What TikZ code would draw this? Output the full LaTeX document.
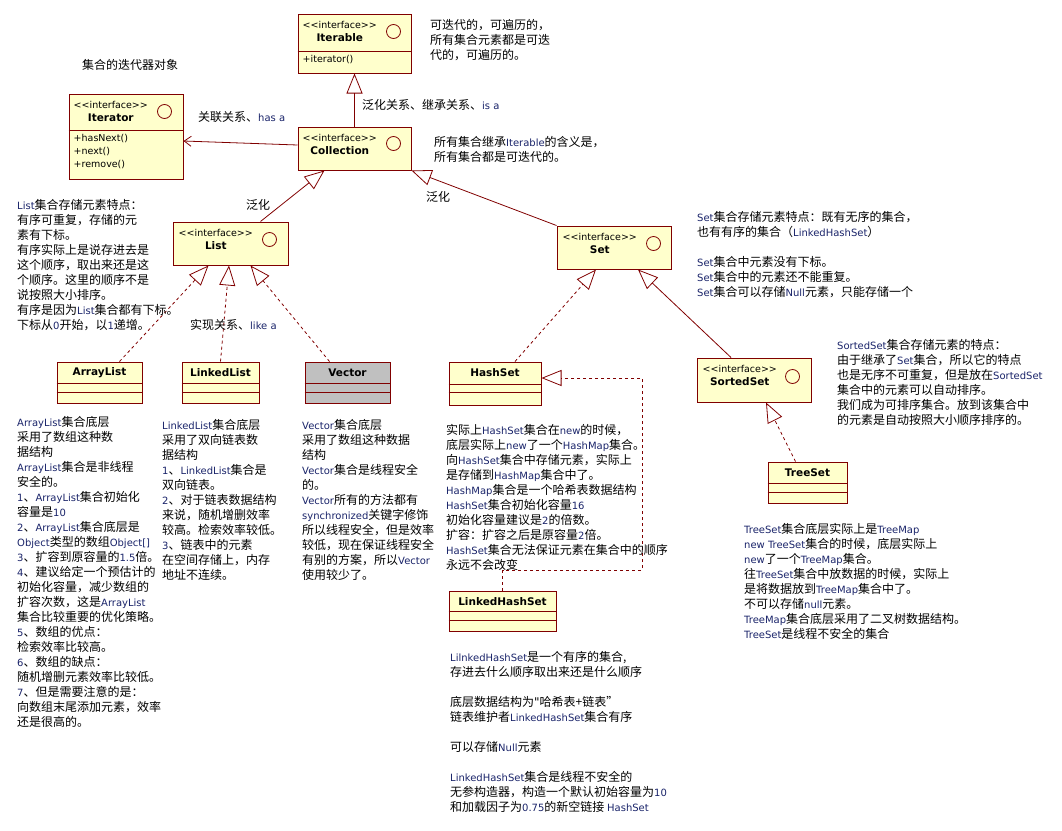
\documentclass[tikz,border=0pt]{standalone}
\usepackage{fontspec}
\setmainfont{Noto Sans CJK SC}
\newfontfamily\umlfont{DejaVu Sans}
\usetikzlibrary{arrows.meta,calc}
\definecolor{umlred}{RGB}{128,0,0}
\definecolor{umlfill}{RGB}{255,255,204}
\definecolor{umlgrey}{RGB}{192,192,192}
\definecolor{latin}{RGB}{25,35,105}
\newcommand\lat[1]{{\umlfont\fontsize{10}{15}\selectfont\color{latin}#1}}

\begin{document}
\begin{tikzpicture}[x=1pt,y=-1pt,
    box/.style={draw=umlred,fill=umlfill,line width=1pt,inner sep=0pt},
    sep/.style={draw=umlred,line width=1pt},
    dot/.style={circle,draw=umlred,line width=0.8pt,minimum size=14pt,inner sep=0pt},
    stereo/.style={font=\umlfont\fontsize{9.5}{11}\selectfont,inner sep=0pt,anchor=west},
    tname/.style={font=\umlfont\bfseries\fontsize{10.5}{12}\selectfont,inner sep=0pt},
    meth/.style={font=\umlfont\fontsize{9.5}{13}\selectfont,inner sep=0pt,anchor=north west,align=left},
    note/.style={font=\fontsize{12}{15}\selectfont,inner sep=0pt,anchor=north west,align=left},
    lbl/.style={font=\fontsize{12}{15}\selectfont,inner sep=0pt,anchor=west},
    gen/.style={draw=umlred,line width=0.8pt,-{Triangle[open,length=20pt,width=16pt]}},
    real/.style={gen,dash pattern=on 3pt off 3pt},
    assoc/.style={draw=umlred,line width=0.8pt,-{Straight Barb[length=7pt,width=10pt]}}]
    \useasboundingbox (0,0) rectangle (1062,830);

    % interfaces
    \node[box,minimum width=113pt,minimum height=59pt] (iterable) at (354.5,43.5) {};
    \draw[sep] ($(iterable.north west)+(0,38)$) -- ($(iterable.north east)+(0,38)$);
    \node[stereo] (iterable-st) at ($(iterable.north west)+(5,11)$) {<<interface>>};
    \node[tname] (iterable-n) at ($(iterable-st)+(0,13)$) {Iterable};
    \node[dot] (iterable-c) at ($(iterable.north east)+(-18,18)$) {};
    \node[meth] (iterable-m) at ($(iterable.north west)+(5,42)$) {+iterator()};

    \node[box,minimum width=114pt,minimum height=85pt] (iterator) at (126,136.5) {};
    \draw[sep] ($(iterator.north west)+(0,37)$) -- ($(iterator.north east)+(0,37)$);
    \node[stereo] (iterator-st) at ($(iterator.north west)+(5,11)$) {<<interface>>};
    \node[tname] (iterator-n) at ($(iterator-st)+(0,13)$) {Iterator};
    \node[dot] (iterator-c) at ($(iterator.north east)+(-19,18)$) {};
    \node[meth] (iterator-m) at ($(iterator.north west)+(5,41)$) {+hasNext()\\+next()\\+remove()};

    \node[box,minimum width=113pt,minimum height=43pt] (collection) at (354.5,148.5) {};
    \node[stereo] (collection-st) at ($(collection.north west)+(5,11)$) {<<interface>>};
    \node[tname] (collection-n) at ($(collection-st)+(0,13)$) {Collection};
    \node[dot] (collection-c) at ($(collection.north east)+(-18,17)$) {};

    \node[box,minimum width=115pt,minimum height=43pt] (list) at (230.5,243.5) {};
    \node[stereo] (list-st) at ($(list.north west)+(6,11)$) {<<interface>>};
    \node[tname] (list-n) at ($(list-st)+(0,13)$) {List};
    \node[dot] (list-c) at ($(list.north east)+(-19,18)$) {};

    \node[box,minimum width=114pt,minimum height=43pt] (set) at (614,247.5) {};
    \node[stereo] (set-st) at ($(set.north west)+(6,11)$) {<<interface>>};
    \node[tname] (set-n) at ($(set-st)+(0,13)$) {Set};
    \node[dot] (set-c) at ($(set.north east)+(-18,18)$) {};

    \node[box,minimum width=114pt,minimum height=44pt] (sortedset) at (754,380) {};
    \node[stereo] (sortedset-st) at ($(sortedset.north west)+(6,11)$) {<<interface>>};
    \node[tname] (sortedset-n) at ($(sortedset-st)+(0,13)$) {SortedSet};
    \node[dot] (sortedset-c) at ($(sortedset.north east)+(-19,19)$) {};

    % classes
    \node[box,minimum width=85pt,minimum height=41pt] (arraylist) at (99.5,382.5) {};
    \node[box,minimum width=77pt,minimum height=41pt] (linkedlist) at (220.5,382.5) {};
    \node[box,fill=umlgrey,minimum width=85pt,minimum height=41pt] (vector) at (347.5,382.5) {};
    \node[box,minimum width=92pt,minimum height=43pt] (hashset) at (495,383.5) {};
    \node[box,minimum width=107pt,minimum height=40pt] (linkedhashset) at (502.5,611) {};
    \node[box,minimum width=79pt,minimum height=41pt] (treeset) at (807.5,482.5) {};
    \foreach \c/\t/\a/\b in {arraylist/ArrayList/22/31, linkedlist/LinkedList/22/31,
        vector/Vector/22/31, hashset/HashSet/23/31,
        linkedhashset/LinkedHashSet/21/30, treeset/TreeSet/22/31} {
        \draw[sep] ($(\c.north west)+(0,\a)$) -- ($(\c.north east)+(0,\a)$);
        \draw[sep] ($(\c.north west)+(0,\b)$) -- ($(\c.north east)+(0,\b)$);
        \node[tname] (\c-n) at ($(\c.north)+(0,11)$) {\t};
    }

    % connectors
    \draw[gen] (collection) -- (iterable);
    \draw[assoc] ([yshift=3.5pt]collection.west) -- ([yshift=-4.5pt]iterator.east);
    \draw[gen] ([xshift=30pt]list.north) -- ([xshift=-30pt]collection.south);
    \draw[gen] (set.north west) -- (collection.south east);
    \draw[real] ([xshift=20pt]arraylist.north) -- ([xshift=-22pt]list.south);
    \draw[real] (linkedlist.north) -- ([xshift=-1.5pt]list.south);
    \draw[real] ([xshift=-18pt]vector.north) -- ([xshift=20pt]list.south);
    \draw[real] ([xshift=20pt]hashset.north) -- ([xshift=-18pt]set.south);
    \draw[gen] ([xshift=-23pt]sortedset.north) -- ([xshift=24pt]set.south);
    \draw[real] ([xshift=-12pt]treeset.north) -- ([xshift=12pt]sortedset.south);
    \coordinate (lhs-bend) at (642,570);
    \draw[real] (linkedhashset.north) |- (lhs-bend) |- ([yshift=5.5pt]hashset.east);

    % labels
    \node[lbl] (iterator-cap) at (82,65) {集合的迭代器对象};
    \node[lbl] (assoc-lbl) at (198,117) {关联关系、\lat{has a}};
    \node[lbl] (isa-lbl) at (362,105) {泛化关系、继承关系、\lat{is a}};
    \node[lbl] (list-gen) at (246,205) {泛化};
    \node[lbl] (set-gen) at (426,197) {泛化};
    \node[lbl] (likea-lbl) at (190,325) {实现关系、\lat{like a}};

    % notes
    \node[note] (iterable-note) at (430,19) {可迭代的，可遍历的，\\所有集合元素都是可迭\\代的，可遍历的。};
    \node[note] (collection-note) at (434,136) {所有集合继承\lat{Iterable}的含义是，\\所有集合都是可迭代的。};
    \node[note] (list-note) at (17,199) {\lat{List}集合存储元素特点：\\
        有序可重复，存储的元\\
        素有下标。\\
        有序实际上是说存进去是\\
        这个顺序，取出来还是这\\
        个顺序。这里的顺序不是\\
        说按照大小排序。\\
        有序是因为\lat{List}集合都有下标。\\
        下标从\lat{0}开始，以\lat{1}递增。};
    \node[note] (arraylist-note) at (17,416) {\lat{ArrayList}集合底层\\
        采用了数组这种数\\
        据结构\\
        \lat{ArrayList}集合是非线程\\
        安全的。\\
        \lat{1}、\lat{ArrayList}集合初始化\\
        容量是\lat{10}\\
        \lat{2}、\lat{ArrayList}集合底层是\\
        \lat{Object}类型的数组\lat{Object[]}\\
        \lat{3}、扩容到原容量的\lat{1.5}倍。\\
        \lat{4}、建议给定一个预估计的\\
        初始化容量，减少数组的\\
        扩容次数，这是\lat{ArrayList}\\
        集合比较重要的优化策略。\\
        \lat{5}、数组的优点：\\
        检索效率比较高。\\
        \lat{6}、数组的缺点：\\
        随机增删元素效率比较低。\\
        \lat{7}、但是需要注意的是：\\
        向数组末尾添加元素，效率\\
        还是很高的。};
    \node[note] (linkedlist-note) at (162,419) {\lat{LinkedList}集合底层\\
        采用了双向链表数\\
        据结构\\
        \lat{1}、\lat{LinkedList}集合是\\
        双向链表。\\
        \lat{2}、对于链表数据结构\\
        来说，随机增删效率\\
        较高。检索效率较低。\\
        \lat{3}、链表中的元素\\
        在空间存储上，内存\\
        地址不连续。};
    \node[note] (vector-note) at (302,419) {\lat{Vector}集合底层\\
        采用了数组这种数据\\
        结构\\
        \lat{Vector}集合是线程安全\\
        的。\\
        \lat{Vector}所有的方法都有\\
        \lat{synchronized}关键字修饰\\
        所以线程安全，但是效率\\
        较低，现在保证线程安全\\
        有别的方案，所以\lat{Vector}\\
        使用较少了。};
    \node[note] (hashset-note) at (446,424) {实际上\lat{HashSet}集合在\lat{new}的时候，\\
        底层实际上\lat{new}了一个\lat{HashMap}集合。\\
        向\lat{HashSet}集合中存储元素，实际上\\
        是存储到\lat{HashMap}集合中了。\\
        \lat{HashMap}集合是一个哈希表数据结构\\
        \lat{HashSet}集合初始化容量\lat{16}\\
        初始化容量建议是\lat{2}的倍数。\\
        扩容：扩容之后是原容量\lat{2}倍。\\
        \lat{HashSet}集合无法保证元素在集合中的顺序\\
        永远不会改变};
    \node[note] (linkedhashset-note) at (450,651) {\lat{LilnkedHashSet}是一个有序的集合,\\
        存进去什么顺序取出来还是什么顺序\\[15pt]
        底层数据结构为{\umlfont"}哈希表+链表”\\
        链表维护者\lat{LinkedHashSet}集合有序\\[15pt]
        可以存储\lat{Null}元素\\[15pt]
        \lat{LinkedHashSet}集合是线程不安全的\\
        无参构造器，构造一个默认初始容量为\lat{10}\\
        和加载因子为\lat{0.75}的新空链接 \lat{HashSet}};
    \node[note] (set-note) at (697,211) {\lat{Set}集合存储元素特点：既有无序的集合，\\
        也有有序的集合（\lat{LinkedHashSet}）\\[15pt]
        \lat{Set}集合中元素没有下标。\\
        \lat{Set}集合中的元素还不能重复。\\
        \lat{Set}集合可以存储\lat{Null}元素，只能存储一个};
    \node[note] (sortedset-note) at (837,339) {\lat{SortedSet}集合存储元素的特点：\\
        由于继承了\lat{Set}集合，所以它的特点\\
        也是无序不可重复，但是放在\lat{SortedSet}\\
        集合中的元素可以自动排序。\\
        我们成为可排序集合。放到该集合中\\
        的元素是自动按照大小顺序排序的。};
    \node[note] (treeset-note) at (744,523) {\lat{TreeSet}集合底层实际上是\lat{TreeMap}\\
        \lat{new TreeSet}集合的时候，底层实际上\\
        \lat{new}了一个\lat{TreeMap}集合。\\
        往\lat{TreeSet}集合中放数据的时候，实际上\\
        是将数据放到\lat{TreeMap}集合中了。\\
        不可以存储\lat{null}元素。\\
        \lat{TreeMap}集合底层采用了二叉树数据结构。\\
        \lat{TreeSet}是线程不安全的集合};
\end{tikzpicture}
\end{document}
